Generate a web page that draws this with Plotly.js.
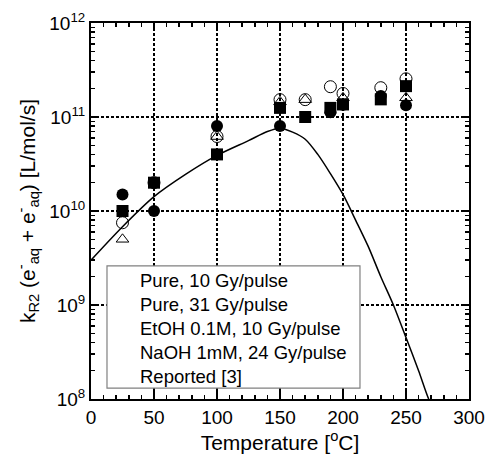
<!DOCTYPE html>
<html>
<head>
<meta charset="utf-8">
<script src="https://cdn.plot.ly/plotly-3.0.1.min.js"></script>
<style>html,body{margin:0;padding:0;background:#fff;}</style>
</head>
<body>
<div id="chart" style="width:487px;height:457px;"></div>
<script>
// Data
const seriesNames = ["Pure, 10 Gy/pulse", "Pure, 31 Gy/pulse", "EtOH 0.1M, 10 Gy/pulse", "NaOH 1mM, 24 Gy/pulse", "Reported [3]"];

const pure10T = [25, 50, 100, 150, 170, 190, 200, 230, 250];
const pure10K = [7.5e9, 2.0e10, 6.2e10, 1.53e11, 1.53e11, 2.1e11, 1.78e11, 2.05e11, 2.55e11];

const pure31T = [25, 50, 100, 150, 190, 200, 230, 250];
const pure31K = [1.5e10, 1.0e10, 8.0e10, 8.0e10, 1.12e11, 1.35e11, 1.67e11, 1.33e11];

const etohT = [25, 100, 150, 170, 200, 250];
const etohK = [5.0e9, 6.2e10, 1.45e11, 1.53e11, 1.6e11, 1.6e11];

const naohT = [25, 50, 100, 150, 170, 190, 200, 230, 250];
const naohK = [1.0e10, 2.0e10, 4.0e10, 1.25e11, 1.0e11, 1.25e11, 1.36e11, 1.54e11, 2.13e11];

const reportedT = [0, 25, 50, 75, 100, 125, 140, 150, 160, 170, 180, 190, 200, 210, 220, 230, 240, 250, 260, 268, 272];
const reportedK = [3.0e9, 6.8e9, 1.42e10, 2.45e10, 3.9e10, 5.6e10, 7.0e10, 7.6e10, 6.9e10, 5.8e10, 4.0e10, 2.5e10, 1.5e10, 8.0e9, 4.2e9, 2.0e9, 1.0e9, 4.5e8, 2.0e8, 1.0e8, 7.8e7];

const yTickVals = [1e8, 1e9, 1e10, 1e11, 1e12];
const yTickText = ["10<sup>8</sup>", "10<sup>9</sup>", "10<sup>10</sup>", "10<sup>11</sup>", "10<sup>12</sup>"];
const xTickVals = [0, 50, 100, 150, 200, 250, 300];

const FONT = "Liberation Sans, Arial, Helvetica, sans-serif";

const traces = [
  {x: reportedT, y: reportedK, mode: "lines", name: seriesNames[4], showlegend: false,
   line: {color: "#000", width: 1.5, shape: "spline", smoothing: 0.8}, cliponaxis: true},
  {x: naohT, y: naohK, mode: "markers", name: seriesNames[3], showlegend: false,
   marker: {symbol: "square", size: 12, color: "#000"}},
  {x: pure31T, y: pure31K, mode: "markers", name: seriesNames[1], showlegend: false,
   marker: {symbol: "circle", size: 12, color: "#000"}},
  {x: pure10T, y: pure10K, mode: "markers", name: seriesNames[0], showlegend: false,
   marker: {symbol: "circle-open", size: 12, color: "#000", line: {width: 1, color: "#000"}}},
  {x: etohT, y: etohK, mode: "markers", name: seriesNames[2], showlegend: false,
   marker: {symbol: "triangle-up-open", size: 11, color: "#000", line: {width: 1, color: "#000"}}}
];

const axisCommon = {
  showline: true, linecolor: "#000", linewidth: 2, mirror: "allticks",
  ticks: "inside", tickcolor: "#000", tickwidth: 1.5, ticklen: 8,
  showgrid: true, gridcolor: "#000", gridwidth: 1.5, griddash: "3px,2px",
  zeroline: false, tickfont: {family: FONT, size: 19, color: "#000"}
};

const layout = {
  width: 487, height: 457,
  margin: {l: 91, r: 18, t: 23, b: 58},
  paper_bgcolor: "#fff", plot_bgcolor: "#fff",
  font: {family: FONT, color: "#000"},
  showlegend: false,
  xaxis: Object.assign({}, axisCommon, {
    range: [0, 300], tickvals: xTickVals, ticktext: xTickVals.map(String),
    minor: {dtick: 10, ticks: "inside", ticklen: 4, tickwidth: 1.5, tickcolor: "#000", showgrid: false},
    title: {text: "Temperature [<sup>o</sup>C]", font: {family: FONT, size: 21, color: "#000"}, standoff: 6}
  }),
  yaxis: Object.assign({}, axisCommon, {
    type: "log", range: [8, 12], tickvals: yTickVals, ticktext: yTickText,
    minor: {dtick: "D1", ticks: "inside", ticklen: 4, tickwidth: 1.5, tickcolor: "#000", showgrid: false},
    title: {text: "k<sub>R2</sub> (e<sup>-</sup><sub>aq</sub> + e<sup>-</sup><sub>aq</sub>) [L/mol/s]",
            font: {family: FONT, size: 21, color: "#000"}, standoff: 8}
  }),
  shapes: [
    {type: "rect", xref: "paper", yref: "paper", x0: 0.0423, x1: 0.7116, y0: 0.029, y1: 0.354,
     fillcolor: "#fff", line: {color: "#808080", width: 1.2}, layer: "above"}
  ],
  annotations: [
    {xref: "paper", yref: "paper", x: 0.125, y: 0.1875, xanchor: "left", yanchor: "middle",
     align: "left", showarrow: false,
     text: seriesNames.join("<br>"),
     font: {family: FONT, size: 18.5, color: "#000"}}
  ]
};

Plotly.newPlot("chart", traces, layout, {displayModeBar: false, staticPlot: true});
</script>
</body>
</html>
